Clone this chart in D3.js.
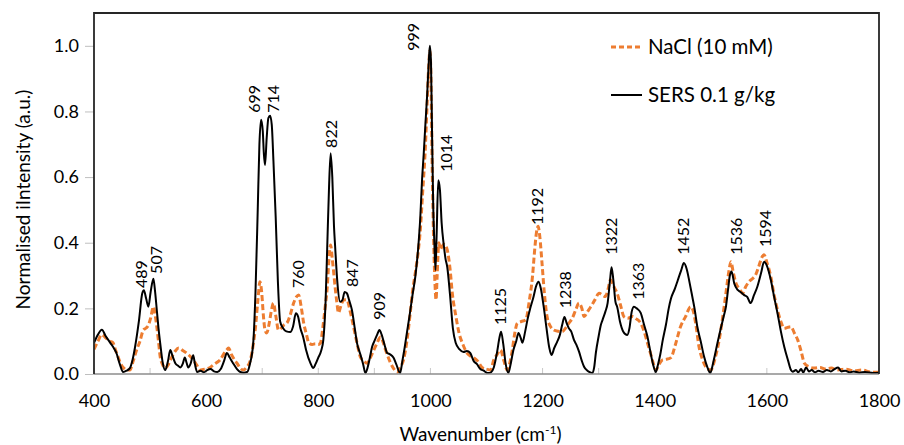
<!DOCTYPE html>
<html>
<head>
<meta charset="utf-8">
<script src="https://cdn.jsdelivr.net/npm/d3@7"></script>
<style>
  html, body { margin: 0; padding: 0; background: #fff; }
  svg { display: block; font-family: Lato, "Open Sans", sans-serif; }
</style>
</head>
<body>
<svg id="chart" width="904" height="445"></svg>
<script>
// SERS spectrum (0.1 g/kg), wavenumber (cm-1) and normalised intensity
const sersWn = [400,407,414,421,429,435,440,446,452,458,464,469,473,480,486,489,493,497,501,506,509,512,515,518,522,527,532,536,540,545,550,554,558,562,565,568,572,577,580,584,590,596,602,608,614,620,626,632,637,642,648,655,661,667,673,678,684,688,692,695,698,701,703,705,708,711,714,717,720,724,728,732,737,743,750,755,760,764,768,773,778,786,791,795,800,805,809,813,816,819,822,825,828,830,834,839,843,847,851,855,860,865,869,875,880,884,888,892,896,900,905,909,913,918,923,928,934,939,946,950,954,958,963,968,973,978,982,985,988,991,994,997,999,1001,1003,1005,1007,1009,1011,1014,1017,1020,1024,1027,1030,1035,1040,1045,1052,1059,1065,1071,1077,1083,1089,1095,1100,1104,1108,1113,1119,1123,1126,1130,1134,1139,1143,1148,1153,1157,1161,1164,1169,1173,1178,1184,1188,1193,1197,1202,1207,1212,1216,1221,1226,1231,1235,1239,1243,1247,1251,1256,1260,1265,1270,1274,1280,1285,1289,1292,1295,1300,1304,1307,1312,1316,1320,1323,1326,1330,1333,1338,1344,1351,1355,1359,1363,1368,1375,1381,1387,1392,1397,1402,1406,1410,1414,1420,1425,1429,1436,1441,1447,1452,1457,1462,1467,1471,1476,1482,1488,1494,1499,1505,1512,1518,1523,1527,1531,1534,1537,1542,1548,1553,1559,1565,1571,1577,1583,1590,1595,1600,1607,1613,1619,1625,1631,1638,1643,1646,1652,1656,1661,1665,1670,1675,1680,1686,1692,1700,1707,1714,1720,1727,1733,1740,1748,1755,1765,1775,1790,1800];
const sersI = [0.095,0.12,0.135,0.115,0.095,0.08,0.064,0.03,0.006,0.01,0.018,0.045,0.08,0.16,0.245,0.255,0.23,0.205,0.25,0.29,0.25,0.195,0.14,0.095,0.04,0.012,0.04,0.073,0.055,0.033,0.025,0.02,0.03,0.05,0.035,0.02,0.03,0.057,0.03,0.006,0.01,0.005,0.012,0.015,0.008,0.006,0.015,0.04,0.064,0.05,0.033,0.015,0.006,0.004,0.006,0.03,0.095,0.25,0.5,0.7,0.775,0.74,0.67,0.637,0.72,0.78,0.787,0.76,0.65,0.48,0.28,0.16,0.14,0.13,0.128,0.145,0.185,0.175,0.14,0.113,0.075,0.033,0.018,0.03,0.05,0.07,0.104,0.22,0.39,0.56,0.673,0.6,0.45,0.39,0.28,0.22,0.225,0.25,0.246,0.225,0.195,0.14,0.095,0.06,0.03,0.003,0.02,0.05,0.083,0.1,0.12,0.134,0.12,0.09,0.064,0.06,0.05,0.03,0.003,0.04,0.08,0.125,0.18,0.24,0.296,0.38,0.48,0.59,0.67,0.76,0.845,0.95,1.0,0.95,0.72,0.51,0.4,0.317,0.42,0.59,0.56,0.46,0.39,0.35,0.326,0.24,0.14,0.095,0.075,0.067,0.07,0.064,0.04,0.03,0.015,0.01,0.004,0.003,0.005,0.02,0.068,0.11,0.129,0.09,0.033,0.003,0.03,0.073,0.1,0.125,0.11,0.095,0.13,0.165,0.2,0.236,0.265,0.281,0.26,0.205,0.14,0.08,0.058,0.08,0.098,0.12,0.15,0.174,0.155,0.139,0.13,0.104,0.09,0.068,0.04,0.022,0.01,0.005,0.003,0.02,0.064,0.115,0.15,0.165,0.19,0.216,0.28,0.325,0.29,0.22,0.205,0.16,0.129,0.119,0.14,0.19,0.205,0.2,0.186,0.15,0.114,0.07,0.03,0.006,0.03,0.06,0.1,0.15,0.2,0.23,0.26,0.285,0.315,0.338,0.32,0.28,0.236,0.2,0.144,0.1,0.053,0.02,0.003,0.04,0.095,0.14,0.175,0.205,0.26,0.3,0.312,0.275,0.256,0.25,0.241,0.235,0.216,0.24,0.266,0.31,0.342,0.33,0.287,0.235,0.185,0.13,0.083,0.04,0.012,0.007,0.012,0.005,0.015,0.005,0.02,0.008,0.012,0.005,0.01,0.006,0.012,0.008,0.014,0.02,0.008,0.01,0.005,0.008,0.004,0.006,0.003,0.004];

// NaCl (10 mM) spectrum
const naclWn = [400,407,414,421,428,434,438,443,448,453,458,464,470,476,482,488,493,497,501,506,509,512,515,518,522,527,533,539,545,551,558,565,571,577,583,589,595,601,607,613,619,625,631,636,640,645,650,655,660,666,672,679,684,688,692,696,699,702,705,708,712,716,720,724,729,734,739,744,750,756,761,765,769,774,779,783,789,795,800,804,808,812,816,819,822,825,828,830,833,836,839,842,847,851,857,863,869,875,881,887,893,899,905,911,916,920,925,929,935,941,946,952,958,964,968,973,978,982,986,991,994,997,999,1001,1003,1006,1008,1010,1012,1015,1018,1021,1025,1030,1035,1039,1045,1051,1058,1065,1071,1077,1084,1092,1100,1107,1113,1119,1125,1131,1137,1141,1146,1150,1155,1162,1170,1176,1182,1186,1189,1192,1195,1199,1203,1208,1214,1220,1228,1235,1241,1247,1253,1259,1265,1270,1274,1280,1286,1293,1301,1307,1312,1317,1321,1325,1329,1333,1339,1345,1352,1360,1367,1375,1381,1387,1393,1398,1402,1408,1414,1421,1429,1437,1446,1455,1464,1469,1473,1479,1485,1491,1500,1508,1515,1521,1527,1532,1536,1540,1545,1551,1557,1562,1568,1574,1580,1586,1591,1595,1600,1607,1613,1619,1625,1631,1637,1643,1649,1655,1661,1667,1675,1684,1695,1705,1715,1725,1740,1755,1770,1785,1800];
const naclI = [0.075,0.1,0.12,0.11,0.1,0.095,0.075,0.052,0.03,0.018,0.012,0.012,0.04,0.073,0.1,0.134,0.14,0.149,0.17,0.205,0.18,0.144,0.1,0.053,0.03,0.018,0.03,0.053,0.07,0.079,0.072,0.064,0.055,0.043,0.028,0.012,0.014,0.016,0.02,0.028,0.035,0.043,0.06,0.072,0.079,0.06,0.045,0.033,0.02,0.012,0.02,0.043,0.09,0.143,0.22,0.281,0.25,0.18,0.134,0.125,0.15,0.19,0.216,0.18,0.134,0.14,0.15,0.155,0.18,0.216,0.235,0.241,0.21,0.155,0.12,0.095,0.09,0.092,0.09,0.095,0.14,0.2,0.265,0.35,0.393,0.35,0.3,0.265,0.22,0.186,0.2,0.216,0.226,0.226,0.19,0.143,0.095,0.052,0.04,0.033,0.05,0.073,0.095,0.113,0.095,0.073,0.05,0.033,0.015,0.006,0.02,0.043,0.1,0.186,0.25,0.308,0.37,0.44,0.55,0.692,0.82,0.94,0.985,0.9,0.65,0.39,0.28,0.226,0.3,0.4,0.38,0.39,0.395,0.378,0.32,0.246,0.18,0.125,0.09,0.064,0.055,0.05,0.04,0.02,0.015,0.012,0.043,0.06,0.073,0.04,0.012,0.03,0.073,0.12,0.155,0.16,0.165,0.22,0.297,0.38,0.43,0.45,0.42,0.338,0.25,0.175,0.145,0.134,0.13,0.129,0.14,0.155,0.17,0.195,0.216,0.2,0.175,0.19,0.205,0.225,0.246,0.24,0.236,0.26,0.287,0.275,0.26,0.246,0.21,0.175,0.17,0.175,0.168,0.155,0.13,0.095,0.06,0.03,0.012,0.03,0.043,0.045,0.05,0.09,0.144,0.175,0.205,0.19,0.155,0.083,0.045,0.022,0.012,0.05,0.104,0.17,0.246,0.31,0.342,0.31,0.276,0.26,0.246,0.265,0.281,0.29,0.302,0.33,0.355,0.363,0.34,0.297,0.24,0.195,0.16,0.139,0.142,0.144,0.125,0.104,0.07,0.033,0.022,0.018,0.02,0.015,0.018,0.012,0.015,0.01,0.012,0.006,0.005];

// Peak annotations: label text, anchor wavenumber, anchor intensity (label base)
const peakText = ["489","507","699","714","760","822","847","909","999","1014","1125","1192","1238","1322","1363","1452","1536","1594"];
const peakAtWn = [485,512,686,720,764,823,861,909,970,1029,1125,1191,1241,1323,1370,1452,1545,1598];
const peakAtI  = [0.262,0.305,0.796,0.796,0.262,0.689,0.265,0.165,0.985,0.616,0.149,0.454,0.2,0.363,0.226,0.363,0.363,0.387];

const xTicks = [400,600,800,1000,1200,1400,1600,1800];
const xMinorTicks = d3.range(400, 1801, 100);
const yTicks = [0,0.2,0.4,0.6,0.8,1.0];

const seriesNames = ["NaCl (10 mM)", "SERS 0.1 g/kg"];
const seriesColors = ["#ED7D31", "#000000"];

const svg = d3.select("#chart");
const margin = {left: 94, right: 25, top: 13, bottom: 71};
const W = 904, H = 445;
const x = d3.scaleLinear().domain([400, 1800]).range([margin.left, W - margin.right]);
const y = d3.scaleLinear().domain([0, 1.1]).range([H - margin.bottom, margin.top]);

svg.append("defs").append("clipPath").attr("id", "plotClip")
  .append("rect")
  .attr("x", x(400)).attr("y", y(1.1))
  .attr("width", x(1800) - x(400)).attr("height", y(0) - y(1.1) + 1);

// y axis ticks + labels
const yAxis = svg.append("g").attr("transform", `translate(${x(400)},0)`)
  .call(d3.axisLeft(y).tickValues(yTicks).tickFormat(d3.format(".1f")).tickSize(9).tickPadding(6));
yAxis.select(".domain").remove();
yAxis.selectAll("line").attr("stroke", "#bfbfbf");
yAxis.selectAll("text").attr("font-size", 18).attr("fill", "#000").attr("font-family", "Lato, sans-serif");

// x axis labels
const xAxis = svg.append("g").attr("transform", `translate(0,${y(0)})`)
  .call(d3.axisBottom(x).tickValues(xTicks).tickFormat(d3.format("d")).tickSize(0).tickPadding(20));
xAxis.select(".domain").remove();
xAxis.selectAll("text").attr("font-size", 18).attr("fill", "#000").attr("font-family", "Lato, sans-serif");

// minor ticks on x axis (inside)
svg.append("g").selectAll("line").data(xMinorTicks).join("line")
  .attr("x1", d => x(d)).attr("x2", d => x(d))
  .attr("y1", y(0)).attr("y2", y(0) - 6)
  .attr("stroke", "#c8c8c8").attr("stroke-width", 1);

// spectra
const line = d3.line().x(d => x(d[0])).y(d => y(d[1])).curve(d3.curveMonotoneX);
const plot = svg.append("g").attr("clip-path", "url(#plotClip)");
plot.append("path")
  .datum(d3.zip(naclWn, naclI))
  .attr("d", line).attr("fill", "none")
  .attr("stroke", seriesColors[0]).attr("stroke-width", 3)
  .attr("stroke-dasharray", "6,3").attr("stroke-linejoin", "round");
plot.append("path")
  .datum(d3.zip(sersWn, sersI))
  .attr("d", line).attr("fill", "none")
  .attr("stroke", seriesColors[1]).attr("stroke-width", 2)
  .attr("stroke-linejoin", "round");

// frame
svg.append("line").attr("x1", x(400)).attr("x2", x(1800)).attr("y1", y(0)).attr("y2", y(0))
  .attr("stroke", "#8c8c8c").attr("stroke-width", 1.5);
svg.append("path")
  .attr("d", `M${x(400)},${y(0)}V${y(1.1)}H${x(1800)}V${y(0)}`)
  .attr("fill", "none").attr("stroke", "#262626").attr("stroke-width", 1.8);

// peak labels
svg.append("g").selectAll("text").data(peakText).join("text")
  .attr("transform", (d, i) => `translate(${x(peakAtWn[i])},${y(peakAtI[i])}) rotate(-90)`)
  .attr("dy", "0.35em")
  .attr("font-size", 16).attr("fill", "#000")
  .text(d => d);

// legend
const legend = svg.append("g");
seriesNames.forEach((name, i) => {
  const ly = 47 + i * 48;
  legend.append("line").attr("x1", 611).attr("x2", 642).attr("y1", ly).attr("y2", ly)
    .attr("stroke", seriesColors[i]).attr("stroke-width", i === 0 ? 3 : 2)
    .attr("stroke-dasharray", i === 0 ? "5,3" : null);
  legend.append("text").attr("x", 648).attr("y", ly).attr("dy", "0.35em")
    .attr("font-size", 20.5).attr("fill", "#000").text(name);
});

// axis titles
svg.append("text")
  .attr("transform", `translate(30,${(y(0) + y(1.1)) / 2 + 6}) rotate(-90)`)
  .attr("text-anchor", "middle").attr("font-size", 19).attr("fill", "#000")
  .text("Normalised iIntensity (a.u.)");
const xt = svg.append("text")
  .attr("x", (x(400) + x(1800)) / 2 - 6).attr("y", 441)
  .attr("text-anchor", "middle").attr("font-size", 19).attr("fill", "#000");
xt.append("tspan").text("Wavenumber (cm");
xt.append("tspan").attr("font-size", 12).attr("dy", -7).text("-1");
xt.append("tspan").attr("dy", 7).text(")");
</script>
</body>
</html>
